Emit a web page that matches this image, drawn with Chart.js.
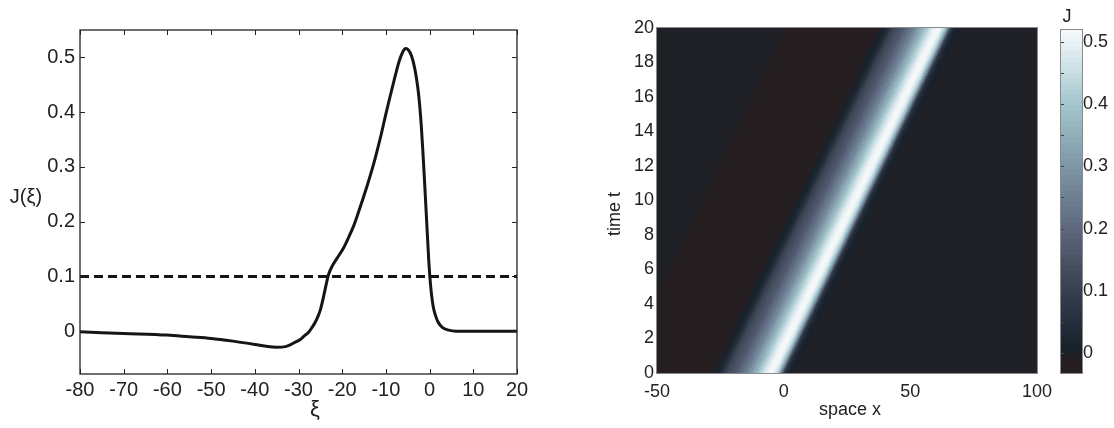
<!DOCTYPE html>
<html>
<head>
<meta charset="utf-8">
<script src="https://cdn.jsdelivr.net/npm/chart.js@4.4.1/dist/chart.umd.min.js"></script>
<style>
  body { margin: 0; background: #fff; width: 1114px; height: 428px; position: relative; overflow: hidden; }
  canvas { position: absolute; top: 0; }
</style>
</head>
<body>
<canvas id="profile" width="540" height="428" style="left:0"></canvas>
<canvas id="spacetime" width="520" height="428" style="left:540px"></canvas>
<canvas id="colorbar" width="74" height="428" style="left:1040px"></canvas>
<script>
// travelling wave profile J(xi)
const xiValues = [-80, -70, -60, -55, -50, -45, -40, -37, -35, -33, -31.9, -30.8, -29.6, -28.6, -27.7, -26.9,
  -26.2, -25.5, -25, -24.3, -23.6, -23.1, -22.3, -21.2, -19.7, -18.5, -17.4, -16.5, -15.5, -14.2, -13, -12,
  -11, -10, -9, -8, -7, -6.2, -5.5, -4.8, -4.15, -3.4, -2.7, -2.3, -1.9, -1.55, -1.2, -0.9, -0.5, -0.2,
  0.05, 0.4, 0.8, 1.3, 2, 2.9, 4.4, 6, 10, 20];
const jValues = [-0.001, -0.004, -0.007, -0.010, -0.013, -0.018, -0.024, -0.028, -0.029, -0.028, -0.025,
  -0.020, -0.015, -0.008, -0.002, 0.007, 0.016, 0.028, 0.039, 0.062, 0.088, 0.104, 0.119, 0.133, 0.152,
  0.172, 0.192, 0.212, 0.236, 0.268, 0.300, 0.330, 0.362, 0.397, 0.430, 0.462, 0.492, 0.509, 0.516, 0.513,
  0.503, 0.480, 0.445, 0.415, 0.375, 0.330, 0.280, 0.235, 0.175, 0.130, 0.100, 0.070, 0.046, 0.030, 0.016,
  0.007, 0.002, 0, 0, 0];

// dashed threshold line
const thresholdXi = [-80, 20];
const thresholdJ = [0.1, 0.1];

// tick labels
const xiTicks = [-80, -70, -60, -50, -40, -30, -20, -10, 0, 10, 20];
const jTicks = [0, 0.1, 0.2, 0.3, 0.4, 0.5];
const spaceTicks = [-50, 0, 50, 100];
const timeTicks = [0, 2, 4, 6, 8, 10, 12, 14, 16, 18, 20];
const colorbarTicks = [0, 0.1, 0.2, 0.3, 0.4, 0.5];
const colorbarMinorTicks = [0, 0.05, 0.1, 0.15, 0.2, 0.25, 0.3, 0.35, 0.4, 0.45, 0.5];

// wave speed (space units per time unit), estimated from the slope of the stripe
const waveSpeed = 3.3;
const jRange = [-0.032, 0.519];

// colormap: bone-like, brownish for negative values
const cmapLevels = 64;
const cmapJ = [0.0024, 0.04, 0.1, 0.2, 0.3, 0.4, 0.46, 0.519];
const cmapRGB = [[22, 33, 43], [34, 43, 55], [55, 64, 78], [93, 104, 126], [126, 150, 166], [163, 198, 205], [205, 226, 230], [248, 250, 251]];

function colorFor(j) {
  const step = (jRange[1] - jRange[0]) / cmapLevels;
  let idx = Math.floor((j - jRange[0]) / step);
  idx = Math.max(0, Math.min(cmapLevels - 1, idx));
  const v = jRange[0] + (idx + 0.5) * step;
  if (v < -0.0062) return 'rgb(37,31,33)';
  if (v < cmapJ[0]) return 'rgb(31,33,38)';
  for (let i = 1; i < cmapJ.length; i++) {
    if (v <= cmapJ[i]) {
      const f = (v - cmapJ[i - 1]) / (cmapJ[i] - cmapJ[i - 1]);
      const c = cmapRGB[i - 1].map((c0, n) => Math.round(c0 + f * (cmapRGB[i][n] - c0)));
      return `rgb(${c[0]},${c[1]},${c[2]})`;
    }
  }
  const last = cmapRGB[cmapRGB.length - 1];
  return `rgb(${last[0]},${last[1]},${last[2]})`;
}

Chart.defaults.font.family = '"Liberation Sans", Arial, Helvetica, sans-serif';
Chart.defaults.color = '#222';

const setTicks = values => scale => { scale.ticks = values.map(v => ({ value: v })); };
const fmt1 = v => (v === 0 ? '0' : v.toFixed(1));

// draws text labels at spots relative to the plot area
function textPlugin(items) {
  return {
    id: 'textLabels',
    afterDraw(chart) {
      const { ctx, chartArea: a } = chart;
      ctx.save();
      ctx.fillStyle = '#222';
      ctx.textAlign = 'center';
      ctx.textBaseline = 'middle';
      items.forEach(it => {
        ctx.font = it.size + 'px "Liberation Sans", Arial, sans-serif';
        const x = a.left + it.dx;
        const y = a.top + it.dy;
        ctx.save();
        ctx.translate(x, y);
        if (it.rotate) ctx.rotate(it.rotate);
        ctx.fillText(it.text, 0, 0);
        ctx.restore();
      });
      ctx.restore();
    }
  };
}

// box frame with inward ticks on all four sides
const boxFrame = {
  id: 'boxFrame',
  afterDraw(chart) {
    const { ctx, chartArea: a, scales: { x, y } } = chart;
    ctx.save();
    ctx.strokeStyle = '#222';
    ctx.lineWidth = 1.3;
    ctx.strokeRect(a.left, a.top, a.right - a.left, a.bottom - a.top);
    ctx.lineWidth = 1;
    ctx.beginPath();
    x.ticks.forEach(t => {
      const px = Math.round(x.getPixelForValue(t.value)) + 0.5;
      ctx.moveTo(px, a.bottom); ctx.lineTo(px, a.bottom - 5);
      ctx.moveTo(px, a.top); ctx.lineTo(px, a.top + 5);
    });
    y.ticks.forEach(t => {
      const py = Math.round(y.getPixelForValue(t.value)) + 0.5;
      ctx.moveTo(a.left, py); ctx.lineTo(a.left + 5, py);
      ctx.moveTo(a.right, py); ctx.lineTo(a.right - 5, py);
    });
    ctx.stroke();
    ctx.restore();
  }
};

// left panel: profile J(xi)
new Chart(document.getElementById('profile'), {
  type: 'line',
  data: {
    datasets: [
      {
        data: xiValues.map((v, i) => ({ x: v, y: jValues[i] })),
        borderColor: '#151515',
        borderWidth: 3,
        pointRadius: 0,
        cubicInterpolationMode: 'monotone'
      },
      {
        data: thresholdXi.map((v, i) => ({ x: v, y: thresholdJ[i] })),
        borderColor: '#151515',
        borderWidth: 3,
        borderDash: [9, 5],
        pointRadius: 0
      }
    ]
  },
  options: {
    responsive: false,
    animation: false,
    layout: { padding: { left: 0, right: 23, top: 30, bottom: 0 } },
    plugins: { legend: { display: false }, tooltip: { enabled: false } },
    scales: {
      x: {
        type: 'linear', min: -80, max: 20,
        afterBuildTicks: setTicks(xiTicks),
        afterFit: s => { s.height = 54; },
        grid: { display: false, drawTicks: false },
        border: { display: false },
        ticks: { padding: 4, font: { size: 20 }, maxRotation: 0, autoSkip: false, callback: v => String(v) }
      },
      y: {
        type: 'linear', min: -0.078, max: 0.55,
        afterBuildTicks: setTicks(jTicks),
        afterFit: s => { s.width = 80; },
        grid: { display: false, drawTicks: false },
        border: { display: false },
        ticks: { padding: 5, font: { size: 20 }, autoSkip: false, callback: fmt1 }
      }
    }
  },
  plugins: [boxFrame, textPlugin([
    { text: 'J(\u03BE)', size: 20, dx: -54, dy: 167 },
    { text: '\u03BE', size: 22, dx: 235, dy: 380 }
  ])]
});

// right panel: space-time map of J, the profile moving at waveSpeed
const heatmap = {
  id: 'heatmap',
  beforeDatasetsDraw(chart) {
    const { ctx, chartArea: a, scales: { x, y } } = chart;
    const n = xiValues.length;
    const edges = [];
    for (let k = 0; k <= n; k++) {
      if (k === 0) edges.push(-1e4);
      else if (k === n) edges.push(1e4);
      else edges.push((xiValues[k - 1] + xiValues[k]) / 2);
    }
    const colors = jValues.map(colorFor);
    ctx.save();
    ctx.beginPath();
    ctx.rect(a.left, a.top, a.right - a.left, a.bottom - a.top);
    ctx.clip();
    for (let py = Math.floor(a.top); py < Math.ceil(a.bottom); py++) {
      const shift = waveSpeed * y.getValueForPixel(py + 0.5);
      for (let k = 0; k < n; k++) {
        const x0 = Math.max(a.left, Math.round(x.getPixelForValue(edges[k] + shift)));
        const x1 = Math.min(a.right, Math.round(x.getPixelForValue(edges[k + 1] + shift)));
        if (x1 <= x0) continue;
        ctx.fillStyle = colors[k];
        ctx.fillRect(x0, py, x1 - x0, 1);
      }
    }
    ctx.restore();
  },
  afterDraw(chart) {
    const { ctx, chartArea: a } = chart;
    ctx.save();
    ctx.strokeStyle = '#8a8a8a';
    ctx.lineWidth = 1;
    ctx.strokeRect(a.left - 0.5, a.top - 0.5, a.right - a.left + 1, a.bottom - a.top + 1);
    ctx.restore();
  }
};

new Chart(document.getElementById('spacetime'), {
  type: 'scatter',
  data: { datasets: [{ data: [] }] },
  options: {
    responsive: false,
    animation: false,
    layout: { padding: { left: 0, right: 18, top: 28, bottom: 0 } },
    plugins: { legend: { display: false }, tooltip: { enabled: false } },
    scales: {
      x: {
        type: 'linear', min: -50, max: 100,
        afterBuildTicks: setTicks(spaceTicks),
        afterFit: s => { s.height = 55; },
        grid: { display: false, drawTicks: false },
        border: { display: false },
        ticks: { padding: 8, font: { size: 18 }, maxRotation: 0, autoSkip: false, callback: v => String(v) }
      },
      y: {
        type: 'linear', min: 0, max: 20,
        afterBuildTicks: setTicks(timeTicks),
        afterFit: s => { s.width = 117; },
        grid: { display: false, drawTicks: false },
        border: { display: false },
        ticks: { padding: 3, font: { size: 18 }, autoSkip: false, callback: v => String(v) }
      }
    }
  },
  plugins: [heatmap, textPlugin([
    { text: 'time t', size: 18, dx: -42, dy: 186, rotate: -Math.PI / 2 },
    { text: 'space x', size: 18, dx: 193, dy: 382 }
  ])]
});

// colour bar
const colorbarPlugin = {
  id: 'colorbarFill',
  beforeDatasetsDraw(chart) {
    const { ctx, chartArea: a, scales: { y } } = chart;
    const step = (jRange[1] - jRange[0]) / cmapLevels;
    ctx.save();
    for (let i = 0; i < cmapLevels; i++) {
      const v0 = jRange[0] + i * step;
      const top = Math.round(y.getPixelForValue(v0 + step));
      const bottom = Math.round(y.getPixelForValue(v0));
      ctx.fillStyle = colorFor(v0 + step / 2);
      ctx.fillRect(a.left, top, a.right - a.left, bottom - top);
    }
    ctx.strokeStyle = '#444';
    ctx.lineWidth = 1;
    ctx.beginPath();
    colorbarMinorTicks.forEach(v => {
      const py = Math.round(y.getPixelForValue(v)) + 0.5;
      ctx.moveTo(a.left, py); ctx.lineTo(a.left + 3, py);
    });
    ctx.stroke();
    ctx.strokeStyle = '#8a8a8a';
    ctx.strokeRect(a.left - 0.5, a.top - 0.5, a.right - a.left + 1, a.bottom - a.top + 1);
    ctx.restore();
  }
};

new Chart(document.getElementById('colorbar'), {
  type: 'scatter',
  data: { datasets: [{ data: [] }] },
  options: {
    responsive: false,
    animation: false,
    layout: { padding: { left: 21, right: 0, top: 30, bottom: 55 } },
    plugins: { legend: { display: false }, tooltip: { enabled: false } },
    scales: {
      x: { display: false, min: 0, max: 1 },
      y: {
        position: 'right', min: jRange[0], max: jRange[1],
        afterBuildTicks: setTicks(colorbarTicks),
        afterFit: s => { s.width = 32; },
        grid: { display: false, drawTicks: false },
        border: { display: false },
        ticks: { padding: 1, font: { size: 18 }, autoSkip: false, callback: fmt1 }
      }
    }
  },
  plugins: [colorbarPlugin, textPlugin([
    { text: 'J', size: 18, dx: 6, dy: -13 }
  ])]
});
</script>
</body>
</html>
